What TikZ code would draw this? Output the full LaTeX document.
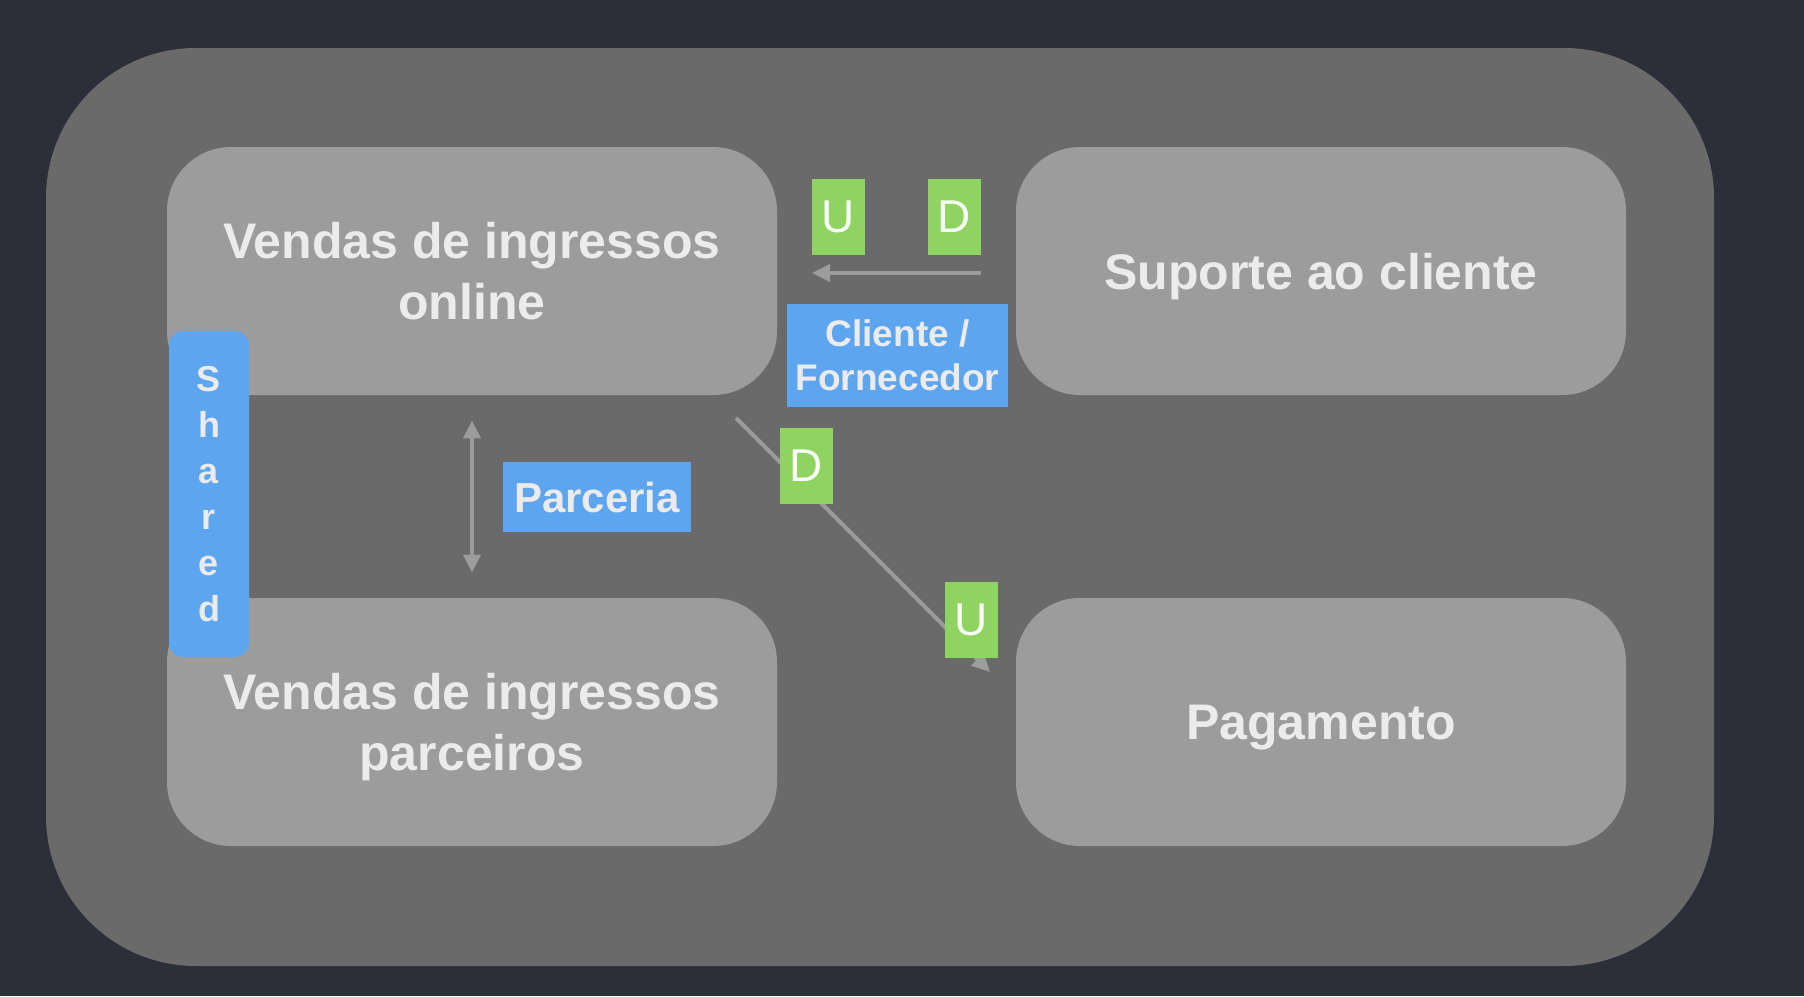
\documentclass[tikz,border=0pt]{standalone}
\usepackage{fontspec}
\setmainfont{Liberation Sans}
\usetikzlibrary{arrows.meta}
\definecolor{bgdark}{HTML}{2C2F37}
\definecolor{mapgray}{HTML}{6A6A6A}
\definecolor{ctxgray}{HTML}{9C9C9C}
\definecolor{txtlight}{HTML}{EBEBEB}
\definecolor{relblue}{HTML}{5EA5F0}
\definecolor{udgreen}{HTML}{8FD460}

\begin{document}
\begin{tikzpicture}[x=.5pt, y=-.5pt, >={Triangle[length=9pt, width=8.5pt]},
    ctx/.style={fill=ctxgray, rounded corners=32pt, minimum width=305pt, minimum height=124pt,
      inner sep=0pt, text depth=-3pt, text=txtlight, align=center, font=\bfseries\fontsize{25}{30.5}\selectfont},
    rel/.style={fill=relblue, inner sep=0pt, text=txtlight, align=center,
      font=\bfseries\fontsize{18.5}{22}\selectfont},
    ud/.style={fill=udgreen, inner sep=0pt, minimum width=26.5pt, minimum height=38pt,
      text=white!95!udgreen, font=\fontsize{23}{23}\selectfont},
    link/.style={draw=ctxgray, line width=2pt}]
    \fill [bgdark] (0, 0) rectangle (1804, 996);
    \node [fill=mapgray, rounded corners=75pt, minimum width=834pt, minimum height=459pt] (ctxmap) at (880, 507) {};
    \node [ctx] (online)    at (472, 271)  {Vendas de ingressos\\online};
    \node [ctx] (suporte)   at (1321, 271) {Suporte ao cliente};
    \node [ctx] (parceiros) at (472, 722)  {Vendas de ingressos\\parceiros};
    \node [ctx] (pagamento) at (1321, 722) {Pagamento};
    \node [rel, rounded corners=7pt, minimum width=40pt, minimum height=163pt,
      font=\bfseries\fontsize{18}{23}\selectfont] (shared) at (209, 494) {S\\h\\a\\r\\e\\d};
    \coordinate (cfFrom) at (981, 273);
    \coordinate (cfTo)   at (812, 273);
    \coordinate (pgFrom) at (736, 418);
    \coordinate (pgTo)   at (990, 672);
    \draw [link, <->, shorten <=12.5pt, shorten >=12.5pt] (online) -- (parceiros);
    \draw [link, ->] (cfFrom) -- (cfTo);
    \draw [link, ->] (pgFrom) -- (pgTo);
    \node [rel, minimum width=94pt, minimum height=35pt, font=\bfseries\fontsize{21}{21}\selectfont]
      (parceria) at (597, 497) {Parceria};
    \node [rel, minimum width=110.5pt, minimum height=51.5pt] (clifor) at (897.5, 355.5) {Cliente /\\Fornecedor};
    \node [ud] (cfU) at (838.5, 217) {U};
    \node [ud] (cfD) at (954.5, 217) {D};
    \node [ud] (pgD) at (806.5, 465.5) {D};
    \node [ud] (pgU) at (971, 619.5) {U};
\end{tikzpicture}
\end{document}
